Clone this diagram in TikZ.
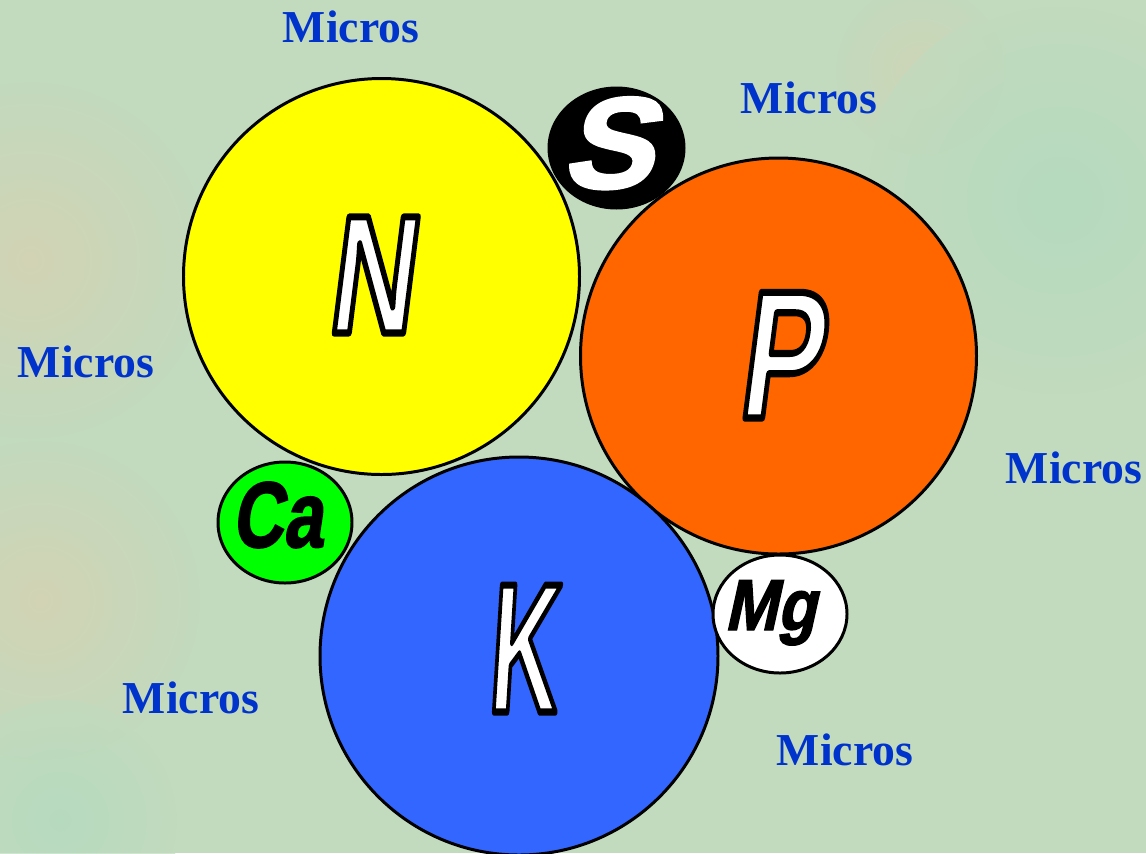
\documentclass[tikz,border=0pt]{standalone}
\usepackage{fontspec}
\usepackage{xcolor}
\newfontfamily\micfont{Liberation Serif}
\newfontfamily\elemfont{Liberation Sans}[UprightFont={* Bold}]
\newfontfamily\heavyfont{Liberation Sans}[UprightFont={* Bold}, FakeBold=2]

\definecolor{bgGreen}{RGB}{194,218,190}
\definecolor{bgTan}{RGB}{214,210,178}
\definecolor{bgMint}{RGB}{178,218,190}
\definecolor{microBlue}{RGB}{0,51,204}
\definecolor{nYellow}{RGB}{255,255,0}
\definecolor{pOrange}{RGB}{255,102,0}
\definecolor{kBlue}{RGB}{51,102,255}
\definecolor{caGreen}{RGB}{0,255,0}

% white letter with a black rim (fill + stroke render mode)
\newcommand\outlined[1]{%
  {\color{white}\special{pdf:literal direct 0 G 4 w 1 j 2 Tr}#1\special{pdf:literal direct 0 Tr}}}

\tikzset{
  micros/.style={anchor=base, inner sep=0pt, text=microBlue,
    font=\micfont\bfseries\fontsize{26}{26}\selectfont},
  ball/.style={draw=black, line width=1.7pt},
  bigletter/.style={anchor=base, inner sep=0pt,
    font=\elemfont\fontsize{#1}{#1}\selectfont},
  smallletter/.style={anchor=base, inner sep=0pt,
    font=\heavyfont\fontsize{#1}{#1}\selectfont}
}

\begin{document}
\begin{tikzpicture}[x=0.02cm, y=-0.02cm]
  % background
  \fill[bgGreen] (0,0) rectangle (1146,853);
  \useasboundingbox (0,0) rectangle (1146,853);
  \shade[inner color=bgTan, outer color=bgGreen, opacity=0.8] (30,260) circle (190);
  \shade[inner color=bgTan, outer color=bgGreen, opacity=0.8] (40,600) circle (170);
  \shade[inner color=bgTan, outer color=bgGreen, opacity=0.6] (920,70) circle (90);
  \shade[inner color=bgMint, outer color=bgGreen, opacity=0.8] (1060,200) circle (200);
  \shade[inner color=bgMint, outer color=bgGreen, opacity=0.7] (60,820) circle (120);

  % the big three
  \draw[ball, fill=nYellow] (381.5,276.5) circle (198);
  \draw[ball, fill=pOrange] (778.5,356) circle (198);
  \draw[ball, fill=kBlue] (519,656) circle (199);

  % secondary nutrients
  \draw[ball, fill=black] (616.5,148) ellipse [x radius=67.5, y radius=60];
  \draw[ball, fill=caGreen] (285,522.5) ellipse [x radius=67, y radius=60.5];
  \draw[ball, fill=white] (780,614) ellipse [x radius=67, y radius=59];

  % letters
  \node[bigletter=96, xscale=0.7, xslant=0.18] (Nlbl) at (369,333) {\outlined{N}};
  \node[bigletter=104, xscale=0.68, xslant=0.19] (Plbl) at (778,418) {\outlined{P}};
  \node[bigletter=105, xscale=0.52, xslant=0.12] (Klbl) at (522,712) {\outlined{K}};
  \node[smallletter=74, text=white, xscale=1.05, xslant=0.25] (Slbl) at (606,188) {S};
  \node[smallletter=53, text=black, xscale=0.76, xslant=0.2] (Calbl) at (277,547) {Ca};
  \node[smallletter=41, text=black, xscale=0.88, xslant=0.25] (Mglbl) at (770,630) {Mg};

  % micronutrients
  \node[micros] (m1) at (351,42) {Micros};
  \node[micros] (m2) at (809,113) {Micros};
  \node[micros] (m3) at (86,377) {Micros};
  \node[micros] (m4) at (1074,483) {Micros};
  \node[micros] (m5) at (191,713) {Micros};
  \node[micros] (m6) at (845,765) {Micros};
\end{tikzpicture}
\end{document}
